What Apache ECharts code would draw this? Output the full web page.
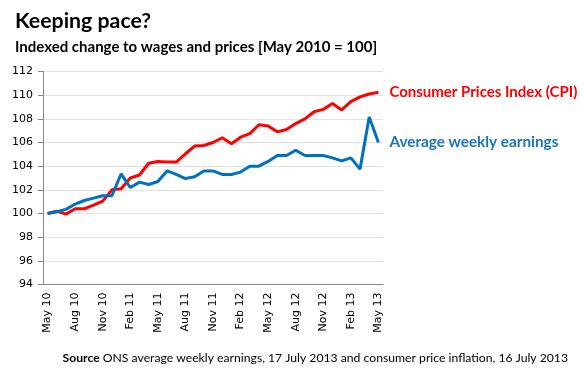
<!DOCTYPE html>
<html>
<head>
<meta charset="utf-8">
<script src="https://cdn.jsdelivr.net/npm/echarts@6/dist/echarts.min.js"></script>
<style>
html,body{margin:0;padding:0;background:#fff;}
#c{width:583px;height:379px;}
</style>
</head>
<body>
<div id="c"></div>
<script>
const months = ['May 10','Jun 10','Jul 10','Aug 10','Sep 10','Oct 10','Nov 10','Dec 10','Jan 11','Feb 11','Mar 11','Apr 11',
  'May 11','Jun 11','Jul 11','Aug 11','Sep 11','Oct 11','Nov 11','Dec 11','Jan 12','Feb 12','Mar 12','Apr 12',
  'May 12','Jun 12','Jul 12','Aug 12','Sep 12','Oct 12','Nov 12','Dec 12','Jan 13','Feb 13','Mar 13','Apr 13','May 13'];
const cpi = [100.0,100.2,99.95,100.4,100.4,100.7,101.05,102.0,102.1,103.0,103.25,104.25,
  104.4,104.35,104.35,105.05,105.7,105.75,106.0,106.4,105.9,106.45,106.75,107.5,
  107.4,106.9,107.1,107.6,108.0,108.6,108.8,109.3,108.75,109.45,109.85,110.1,110.25];
const awe = [100.0,100.15,100.35,100.8,101.1,101.3,101.5,101.5,103.35,102.2,102.65,102.45,
  102.7,103.6,103.3,102.95,103.1,103.6,103.6,103.3,103.3,103.5,104.0,104.0,
  104.4,104.9,104.9,105.35,104.9,104.9,104.9,104.7,104.45,104.7,103.75,108.15,106.0];
const seriesNames = ['Consumer Prices Index (CPI)','Average weekly earnings'];
const titleText = 'Keeping pace?';
const subtitleText = 'Indexed change to wages and prices [May 2010 = 100]';

const chart = echarts.init(document.getElementById('c'), null, {renderer:'canvas'});
const sansCal = 'Lato, "Open Sans", sans-serif';
const axisFont = '"DejaVu Sans", Verdana, sans-serif';
chart.setOption({
  animation:false,
  backgroundColor:'#fff',
  title:[
    {text:titleText,left:10,top:6,textStyle:{fontFamily:sansCal,fontWeight:'bold',fontSize:21.3,color:'#000'}},
    {text:subtitleText,left:10,top:35,textStyle:{fontFamily:sansCal,fontWeight:'bold',fontSize:15,color:'#000'}},
    {text:'{b|Source} ONS average weekly earnings, 17 July 2013 and consumer price inflation, 16 July 2013',
     right:10,top:347,textStyle:{fontFamily:sansCal,fontSize:12.2,color:'#000',fontWeight:'normal',
       rich:{b:{fontFamily:sansCal,fontSize:12.2,fontWeight:'bold',color:'#000'}}}}
  ],
  grid:{left:43,right:200,top:71.5,bottom:94.5,containLabel:false},
  xAxis:{
    type:'category',data:months,boundaryGap:true,
    axisLine:{lineStyle:{color:'#868686',width:1}},
    axisTick:{interval:2,length:5,lineStyle:{color:'#868686'}},
    axisLabel:{interval:2,rotate:90,margin:8,fontFamily:axisFont,fontSize:11,color:'#000'},
    splitLine:{show:false}
  },
  yAxis:{
    type:'value',min:94,max:112,interval:2,
    axisLine:{show:true,lineStyle:{color:'#868686',width:1}},
    axisTick:{show:true,length:5,lineStyle:{color:'#868686'}},
    axisLabel:{margin:10,fontFamily:axisFont,fontSize:11,color:'#000'},
    splitLine:{lineStyle:{color:'#e3e3e3',width:1}}
  },
  series:[
    {name:seriesNames[0],type:'line',data:cpi,symbol:'none',lineStyle:{color:'#ff0000',width:3},
     endLabel:{show:true,formatter:'{a}',distance:11,color:'#ff0000',fontFamily:sansCal,fontWeight:'bold',fontSize:15}},
    {name:seriesNames[1],type:'line',data:awe,symbol:'none',lineStyle:{color:'#0070c0',width:3},
     endLabel:{show:true,formatter:'{a}',distance:11,color:'#1a73c0',fontFamily:sansCal,fontWeight:'bold',fontSize:15.3}}
  ]
});
</script>
</body>
</html>
